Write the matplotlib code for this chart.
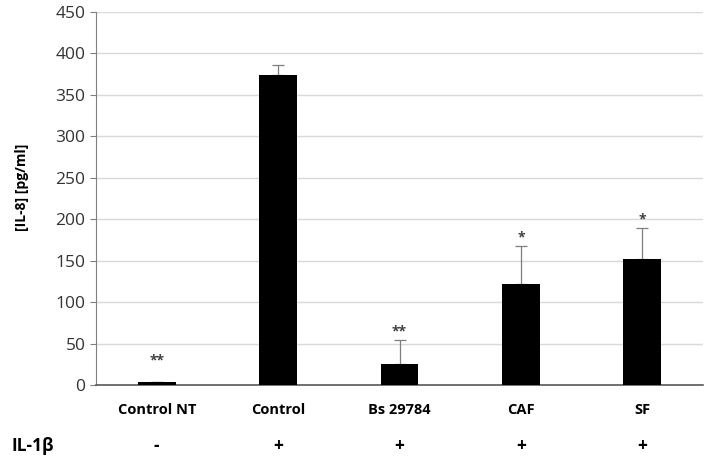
import matplotlib
matplotlib.use('Agg')
import numpy as np
from matplotlib import pyplot as plt

plt.rcParams['font.family'] = ['Open Sans', 'DejaVu Sans']

groups = ['Control NT', 'Control', 'Bs 29784', 'CAF', 'SF']
il8 = [4, 374, 25, 122, 152]
err = [0, 12, 29, 46, 38]
stars = ['**', '', '**', '*', '*']
il1b = ['-', '+', '+', '+', '+']

fig = plt.figure(figsize=(7.09, 4.71), dpi=100)
ax = fig.add_axes([96/709, 1-385/471, 607/709, 373/471])

x = np.arange(len(groups))
ax.bar(x, il8, width=0.31, color='black', zorder=3)
ax.errorbar(x, il8, yerr=[np.zeros(len(err)), err], fmt='none', ecolor='#7f7f7f',
            elinewidth=0.9, capsize=4, capthick=0.9, zorder=2)
for i in range(len(groups)):
    if stars[i]:
        ax.text(x[i], il8[i] + max(err[i], 15) + 10, stars[i], ha='center', va='center',
                fontsize=10, fontweight='bold', color='#404040')

ax.set_xlim(-0.5, len(groups) - 0.5)
ax.set_ylim(0, 450)
ax.set_yticks(range(0, 451, 50))
ax.yaxis.grid(True, color='#d9d9d9', linewidth=1, zorder=0)
ax.set_axisbelow(True)
for s in ['top', 'right']:
    ax.spines[s].set_visible(False)
ax.spines['left'].set_color('#7f7f7f')
ax.spines['bottom'].set_color('#595959')
ax.spines['bottom'].set_linewidth(1.2)
ax.tick_params(axis='y', length=4, color='#7f7f7f', labelsize=12.5, labelcolor='#333333')
ax.tick_params(axis='x', length=0, pad=13)
ax.set_xticks(x)
ax.set_xticklabels(groups, fontsize=10.5, fontweight='bold')
ax.set_ylabel('[IL-8] [pg/ml]', fontsize=10, fontweight='bold')
ax.yaxis.set_label_coords(-0.11, 0.53)

for i in range(len(groups)):
    ax.text(x[i], -74, il1b[i], ha='center', va='center', fontsize=12.5,
            fontweight='bold', clip_on=False)
ax.text(-1.2, -74, 'IL-1β', ha='left', va='center', fontsize=12.5,
        fontweight='bold', clip_on=False)

fig.savefig('out.png', dpi=100)
